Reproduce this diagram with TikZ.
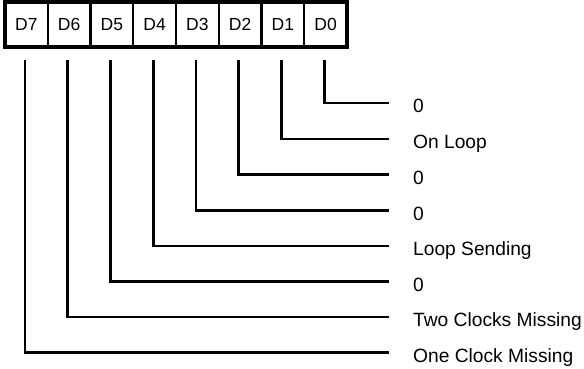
\documentclass[tikz,border=0pt]{standalone}
\usepackage{fontspec}
\setmainfont{Liberation Sans}
\usepackage{tikz}
\usetikzlibrary{positioning}

\tikzset{
  bitcell/.style={draw, line width=2.4pt, minimum width=42.75pt, minimum height=45pt, inner sep=0pt, outer sep=0pt, font=\fontsize{17.5}{19}\selectfont},
  bitlabel/.style={anchor=west, inner sep=0pt, text height=19pt, text depth=0pt, font=\fontsize{19.2}{21}\selectfont},
  link/.style={line width=2.7pt, shorten <=13pt, shorten >=24pt}
}

\begin{document}
\begin{tikzpicture}[x=1pt, y=-1pt]
\useasboundingbox (0,0) rectangle (584,369);

\node [bitcell] (d7) at (26.4,24.5) {D7};
\node [bitcell, right=0pt of d7] (d6) {D6};
\node [bitcell, right=0pt of d6] (d5) {D5};
\node [bitcell, right=0pt of d5] (d4) {D4};
\node [bitcell, right=0pt of d4] (d3) {D3};
\node [bitcell, right=0pt of d3] (d2) {D2};
\node [bitcell, right=0pt of d2] (d1) {D1};
\node [bitcell, right=0pt of d1] (d0) {D0};
\draw [line width=3.6pt] (d7.north west) rectangle (d0.south east);

\node [bitlabel] (l0) at (413,103) {0};
\node [bitlabel] (l1) at (413,139) {On Loop};
\node [bitlabel] (l2) at (413,174.5) {0};
\node [bitlabel] (l3) at (413,210.5) {0};
\node [bitlabel] (l4) at (413,246) {Loop Sending};
\node [bitlabel] (l5) at (413,281.5) {0};
\node [bitlabel] (l6) at (413,317) {Two Clocks Missing};
\node [bitlabel] (l7) at (413,352.5) {One Clock Missing};

\draw [link] ([xshift=-1.5pt]d0.south) |- (l0.west);
\draw [link] ([xshift=-1.5pt]d1.south) |- (l1.west);
\draw [link] ([xshift=-1.5pt]d2.south) |- (l2.west);
\draw [link] ([xshift=-1.5pt]d3.south) |- (l3.west);
\draw [link] ([xshift=-1.5pt]d4.south) |- (l4.west);
\draw [link] ([xshift=-1.5pt]d5.south) |- (l5.west);
\draw [link] ([xshift=-1.5pt]d6.south) |- (l6.west);
\draw [link] ([xshift=-1.5pt]d7.south) |- (l7.west);
\end{tikzpicture}
\end{document}
